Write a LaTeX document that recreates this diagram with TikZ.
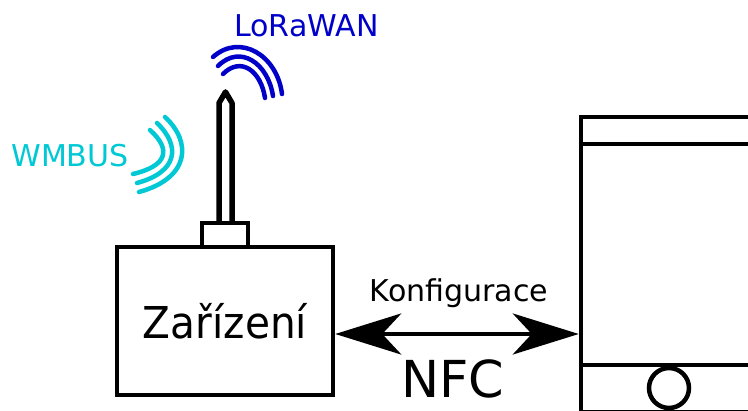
\documentclass[tikz,border=0pt]{standalone}
\usepackage{fontspec}
\setmainfont{DejaVu Sans}
\newfontface\devicefont[FakeStretch=0.925]{DejaVu Sans}
\usepackage{tikz}
\usetikzlibrary{positioning,arrows.meta}
\definecolor{lorablue}{RGB}{0,0,200}
\definecolor{wmbuscyan}{RGB}{0,200,212}

\begin{document}
\begin{tikzpicture}[
  x=0.02cm, y=-0.02cm,
  thickline/.style={line width=0.09cm},
  box/.style={draw, thickline, inner sep=0pt},
  wave/.style={line width=0.09cm, line cap=round},
  label/.style={font=\fontsize{17.1}{20}\selectfont, inner sep=0pt, anchor=base},
  arrow/.style={{Stealth[length=1.32cm,width=0.82cm,inset=0.38cm]}-{Stealth[length=1.32cm,width=0.82cm,inset=0.38cm]}, thickline}
]
\clip (0,0) rectangle (748,411);
\node[box, minimum width=4.32cm, minimum height=2.96cm, font=\devicefont\fontsize{25}{30}\selectfont] (device) at (225,321) {Zařízení};
\node[box, minimum width=0.92cm, minimum height=0.48cm, above=-0.09cm of device] (plug) {};
\node[box, minimum width=3.52cm, minimum height=5.915cm] (phone) at (669,264.9) {};
\node[box, circle, minimum size=0.8cm] (button) at (669,388) {};
\draw[thickline] (phone.west |- 0,144) -- (phone.east |- 0,144);
\draw[thickline] (phone.west |- 0,365) -- (phone.east |- 0,365);
\draw[arrow] (device.east |- 0,334) -- (phone.west |- 0,334);
% antenna
\draw[line width=0.11cm, line join=round] (219,222) -- (219,103) -- (225.5,92) -- (232,103) -- (232,222);
% LoRaWAN waves
\draw[wave, lorablue] (213,57) .. controls (240,33) and (277,55) .. (282,94);
\draw[wave, lorablue] (218,66) .. controls (240,44) and (268,63) .. (273,96);
\draw[wave, lorablue] (223,74) .. controls (241,56) and (261,71) .. (265,98);
% WMBUS waves
\draw[wave, wmbuscyan] (165,117) .. controls (192,142) and (190,178) .. (139,192);
\draw[wave, wmbuscyan] (157,123) .. controls (181,146) and (178,172) .. (137,183);
\draw[wave, wmbuscyan] (150,130) .. controls (172,150) and (167,166) .. (133,174);
\node[label, text=lorablue] (lora) at (306.5,37) {LoRaWAN};
\node[label, text=wmbuscyan] (wmbus) at (70,167) {WMBUS};
\node[label] (config) at (459,302) {Konfigurace};
\node[label, font=\fontsize{29}{34}\selectfont] (nfc) at (453,398) {NFC};
\end{tikzpicture}
\end{document}
